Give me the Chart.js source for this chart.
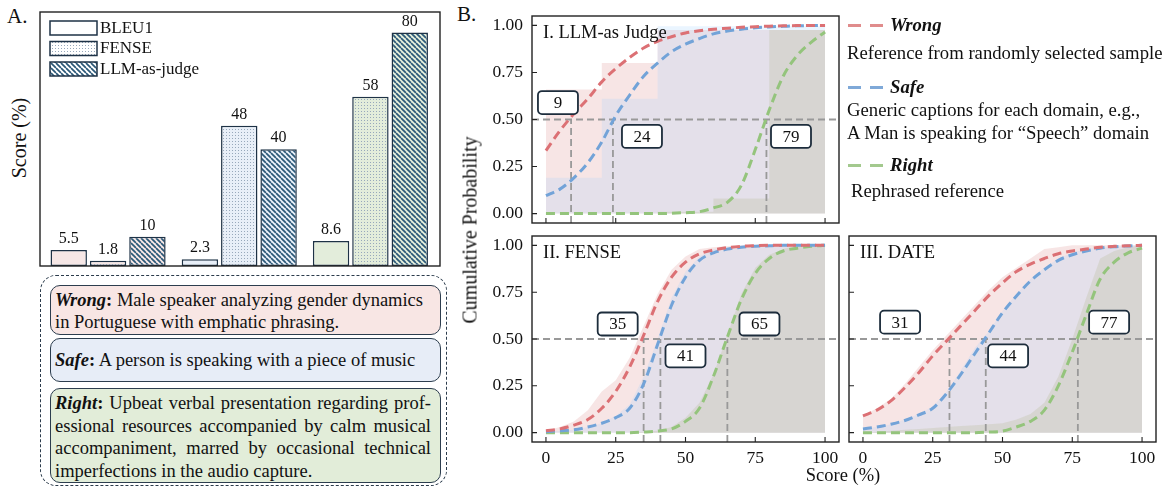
<!DOCTYPE html>
<html>
<head>
<meta charset="utf-8">
<script src="https://cdn.jsdelivr.net/npm/chart.js@4.4.0/dist/chart.umd.min.js"></script>
<style>
  body { margin: 0; background: #fff; }
  #fig { position: relative; width: 1164px; height: 488px; overflow: hidden; background: #fff;
         font-family: 'Liberation Serif', 'Times New Roman', serif; color: #111; }
  #fig canvas { position: absolute; }
  .t { position: absolute; white-space: nowrap; line-height: 20px; }
  .rot { position: absolute; white-space: nowrap; transform: translate(-50%, -50%) rotate(-90deg); }
  .box { position: absolute; border: 1.5px solid #2c3d4e; border-radius: 10px; box-sizing: border-box;
         padding: 3px 9px 0 4px; font-size: 18.5px; line-height: 22px; white-space: nowrap; }
  .box .j { text-align: justify; text-align-last: justify; }
  .dash { position: absolute; width: 13px; height: 3px; }
</style>
</head>
<body>
<div id="fig">
  <div class="t" style="left:7px;top:6px;font-size:21px;">A.</div>
  <div class="t" style="left:457px;top:4px;font-size:21px;">B.</div>
  <div class="rot" style="left:19px;top:138px;font-size:20px;">Score (%)</div>

  <canvas id="bars"></canvas>

  <div style="position:absolute;left:40px;top:275px;width:407px;height:211px;border:1.5px dashed #2b3b4b;border-radius:16px;box-sizing:border-box;"></div>
  <div class="box" style="left:50px;top:285px;width:391px;height:50px;background:#f8e6e4;">
    <div><b><i>Wrong</i>:</b> Male speaker analyzing gender dynamics</div>
    <div>in Portuguese with emphatic phrasing.</div>
  </div>
  <div class="box" style="left:50px;top:338px;width:391px;height:44px;background:#e7edf7;padding-top:10px;">
    <div><b><i>Safe</i>:</b> A person is speaking with a piece of music</div>
  </div>
  <div class="box" style="left:50px;top:388px;width:391px;height:95px;background:#e2edd9;line-height:22.5px;">
    <div class="j"><b><i>Right</i>:</b> Upbeat verbal presentation regarding prof-</div>
    <div class="j">essional resources accompanied by calm musical</div>
    <div class="j">accompaniment, marred by occasional technical</div>
    <div>imperfections in the audio capture.</div>
  </div>

  <canvas id="cdfLlm"></canvas>
  <canvas id="cdfFense"></canvas>
  <canvas id="cdfDate"></canvas>

  <div class="rot" style="left:470px;top:230px;font-size:20px;">Cumulative Probability</div>
  <div class="t" style="left:843px;top:465px;font-size:18.5px;transform:translateX(-50%);">Score (%)</div>

  <div class="dash" style="left:848px;top:24px;background:#e08c8c;"></div>
  <div class="dash" style="left:870px;top:24px;background:#e08c8c;"></div>
  <div class="t" style="left:890px;top:15px;font-size:18.7px;"><b><i>Wrong</i></b></div>
  <div class="t" style="left:847px;top:43px;font-size:18.7px;">Reference from randomly selected sample</div>
  <div class="dash" style="left:848px;top:86px;background:#7fa9d8;"></div>
  <div class="dash" style="left:870px;top:86px;background:#7fa9d8;"></div>
  <div class="t" style="left:890px;top:77px;font-size:18.7px;"><b><i>Safe</i></b></div>
  <div class="t" style="left:847px;top:100px;font-size:18.7px;">Generic captions for each domain, e.g.,</div>
  <div class="t" style="left:847px;top:123px;font-size:18.7px;">A Man is speaking for “Speech” domain</div>
  <div class="dash" style="left:848px;top:164px;background:#a3c98e;"></div>
  <div class="dash" style="left:870px;top:164px;background:#a3c98e;"></div>
  <div class="t" style="left:890px;top:155px;font-size:18.7px;"><b><i>Right</i></b></div>
  <div class="t" style="left:851px;top:181px;font-size:18.7px;">Rephrased reference</div>
</div>

<script>
// ---- panel A data ----
const groups = ['Wrong', 'Safe', 'Right'];
const metrics = ['BLEU1', 'FENSE', 'LLM-as-judge'];
const bleu1 = [5.5, 2.3, 8.6];
const fense = [1.8, 48, 58];
const llmJudge = [10, 40, 80];

// ---- panel B data ----
const scoreGrid = [0, 5, 10, 15, 20, 25, 30, 35, 40, 45, 50, 55, 60, 65, 70, 75, 80, 85, 90, 95, 100];
const xTicks = [0, 25, 50, 75, 100];
const yTicks = [0, 0.25, 0.5, 0.75, 1];

// I. LLM-as Judge
const llmWrong = [0.335, 0.44, 0.53, 0.61, 0.70, 0.77, 0.83, 0.88, 0.915, 0.94, 0.96, 0.972, 0.98, 0.985, 0.99, 0.993, 0.996, 0.998, 0.999, 1, 1];
const llmSafe = [0.095, 0.13, 0.19, 0.27, 0.38, 0.52, 0.63, 0.73, 0.80, 0.86, 0.90, 0.93, 0.955, 0.97, 0.98, 0.987, 0.992, 0.995, 0.998, 0.999, 1];
const llmRight = [0, 0, 0, 0, 0, 0, 0, 0, 0, 0.002, 0.005, 0.01, 0.03, 0.06, 0.15, 0.34, 0.55, 0.73, 0.84, 0.91, 0.965];
const llmStepX = [0, 20, 40, 60, 80, 100];
const llmWrongHist = [0.66, 0.80, 0.975, 0.975, 0.975, 0.975];
const llmSafeHist = [0.19, 0.61, 0.995, 0.995, 0.995, 0.995];
const llmRightHist = [0, 0, 0.01, 0.08, 0.975, 0.975];
const llmMedians = [9, 24, 79];

// II. FENSE
const fenseWrong = [0.01, 0.02, 0.04, 0.07, 0.13, 0.22, 0.35, 0.52, 0.70, 0.83, 0.91, 0.955, 0.975, 0.988, 0.995, 0.998, 1, 1, 1, 1, 1];
const fenseSafe = [0.005, 0.01, 0.015, 0.03, 0.05, 0.08, 0.13, 0.26, 0.47, 0.68, 0.83, 0.92, 0.96, 0.98, 0.99, 0.995, 0.998, 1, 1, 1, 1];
const fenseRight = [0, 0, 0, 0, 0, 0, 0, 0.003, 0.008, 0.02, 0.06, 0.13, 0.30, 0.51, 0.71, 0.85, 0.93, 0.97, 0.985, 0.995, 1];
const fenseWrongEcdf = [0.01, 0.03, 0.06, 0.12, 0.22, 0.28, 0.40, 0.57, 0.74, 0.87, 0.94, 0.98, 0.99, 0.995, 1, 1, 1, 1, 1, 1, 1];
const fenseSafeEcdf = [0.005, 0.01, 0.015, 0.03, 0.05, 0.09, 0.15, 0.30, 0.50, 0.72, 0.86, 0.94, 0.98, 0.99, 0.995, 1, 1, 1, 1, 1, 1];
const fenseRightEcdf = [0, 0, 0, 0, 0, 0, 0, 0.005, 0.01, 0.03, 0.08, 0.16, 0.31, 0.52, 0.74, 0.88, 0.95, 0.98, 1, 1, 1];
const fenseMedians = [35, 41, 65];

// III. DATE
const dateWrong = [0.09, 0.12, 0.17, 0.24, 0.32, 0.41, 0.49, 0.57, 0.65, 0.73, 0.80, 0.86, 0.90, 0.93, 0.955, 0.97, 0.98, 0.99, 0.995, 0.998, 1];
const dateSafe = [0.02, 0.03, 0.045, 0.065, 0.095, 0.13, 0.21, 0.31, 0.42, 0.53, 0.64, 0.73, 0.81, 0.87, 0.92, 0.95, 0.97, 0.985, 0.993, 0.997, 1];
const dateRight = [0, 0, 0, 0, 0, 0, 0, 0, 0, 0.003, 0.008, 0.03, 0.06, 0.12, 0.25, 0.43, 0.63, 0.82, 0.91, 0.96, 0.985];
const dateWrongEcdf = [0.09, 0.13, 0.18, 0.26, 0.35, 0.44, 0.52, 0.60, 0.68, 0.76, 0.83, 0.88, 0.93, 0.98, 0.99, 1, 1, 1, 1, 1, 1];
const dateSafeEcdf = [0.02, 0.03, 0.045, 0.07, 0.10, 0.14, 0.22, 0.33, 0.45, 0.54, 0.65, 0.74, 0.82, 0.88, 0.93, 0.96, 0.98, 0.99, 0.99, 1, 1];
const dateRightEcdf = [0, 0.005, 0.01, 0.015, 0.02, 0.025, 0.03, 0.035, 0.04, 0.045, 0.05, 0.07, 0.10, 0.16, 0.30, 0.50, 0.72, 0.93, 0.97, 0.99, 1];
const dateMedians = [31, 44, 77];

// where the median number boxes sit (data coords)
const llmBoxAt = [[4.3, 0.59], [34.4, 0.41], [87.8, 0.41]];
const fenseBoxAt = [[25.7, 0.58], [50, 0.41], [76.5, 0.58]];
const dateBoxAt = [[13.3, 0.59], [52, 0.41], [88.2, 0.59]];

const SERIF = "'Liberation Serif', 'Times New Roman', serif";
Chart.defaults.font.family = SERIF;
Chart.defaults.color = '#111';
Chart.defaults.animation = false;

const RED = '#dc7074', BLUE = '#72a3d8', GREEN = '#94c47c';
const RED_FILL = 'rgba(200,80,80,0.15)';
const BLUE_FILL = 'rgba(150,205,255,0.2)';
const GREEN_FILL = 'rgba(184,188,156,0.3)';

// ---- hatch patterns ----
function dots(base) {
    const c = document.createElement('canvas');
    c.width = 3; c.height = 3;
    const g = c.getContext('2d');
    g.fillStyle = base; g.fillRect(0, 0, 3, 3);
    g.fillStyle = '#97a8bb'; g.fillRect(1, 1, 1, 1);
    return g.createPattern(c, 'repeat');
}
function stripes(base) {
    const s = 5;
    const c = document.createElement('canvas');
    c.width = s; c.height = s;
    const g = c.getContext('2d');
    g.fillStyle = base; g.fillRect(0, 0, s, s);
    g.strokeStyle = '#2b5878'; g.lineWidth = 1.7;
    g.beginPath();
    for (const k of [-s, 0, s]) { g.moveTo(k, 0); g.lineTo(k + s, s); }
    g.stroke();
    return g.createPattern(c, 'repeat');
}

const groupColors = ['#f6e7e6', '#e8eff8', '#e3eddb'];
const BAR_EDGE = '#1e3246';

// frame around panel A + value labels + legend
const barDecor = {
    id: 'barDecor',
    afterDatasetsDraw(chart) {
        const {ctx, chartArea: a} = chart;
        ctx.save();
        ctx.font = '16px ' + SERIF;
        ctx.fillStyle = '#111';
        ctx.textAlign = 'center';
        ctx.textBaseline = 'bottom';
        chart.data.datasets.forEach((ds, i) => {
            chart.getDatasetMeta(i).data.forEach((bar, j) => {
                ctx.fillText(String(ds.data[j]), bar.x, bar.y - 3);
            });
        });
        // frame
        ctx.strokeStyle = '#222';
        ctx.lineWidth = 1.4;
        ctx.strokeRect(a.left - 2.5, a.top, a.width + 6.5, a.height);
        // legend
        const fills = ['#ffffff', dots('#ffffff'), stripes('#ffffff')];
        ctx.font = '17px ' + SERIF;
        ctx.textAlign = 'left';
        ctx.textBaseline = 'middle';
        metrics.forEach((m, i) => {
            const x = a.left + 7.5, y = a.top + 9 + i * 20.5;
            ctx.fillStyle = fills[i];
            ctx.fillRect(x, y, 47, 14);
            ctx.strokeStyle = BAR_EDGE; ctx.lineWidth = 1.5;
            ctx.strokeRect(x, y, 47, 14);
            ctx.fillStyle = '#111';
            ctx.fillText(m, x + 50, y + 7.5);
        });
        ctx.restore();
    }
};

const barCv = document.getElementById('bars');
barCv.width = 408; barCv.height = 262;
barCv.style.left = '36px'; barCv.style.top = '8px';
new Chart(barCv, {
    type: 'bar',
    data: {
        labels: groups,
        datasets: [
            {label: metrics[0], data: bleu1, backgroundColor: groupColors},
            {label: metrics[1], data: fense, backgroundColor: groupColors.map(dots)},
            {label: metrics[2], data: llmJudge, backgroundColor: groupColors.map(stripes)}
        ].map(d => Object.assign(d, {borderColor: BAR_EDGE, borderWidth: 1.5, borderSkipped: false,
            categoryPercentage: 0.9, barPercentage: 0.925}))
    },
    options: {
        responsive: false,
        layout: {padding: {left: 6.5, right: 8, top: 4, bottom: 4}},
        plugins: {legend: {display: false}, tooltip: {enabled: false}},
        scales: {
            x: {display: false},
            y: {display: false, min: 0, max: 87}
        }
    },
    plugins: [barDecor]
});

// ---- panel B ----
const cdfDecor = {
    id: 'cdfDecor',
    afterDatasetsDraw(chart, args, opts) {
        const {ctx, chartArea: a, scales: {x, y}} = chart;
        ctx.save();
        // median boxes
        ctx.font = '17px ' + SERIF;
        ctx.textAlign = 'center';
        ctx.textBaseline = 'middle';
        opts.boxes.forEach(b => {
            const cx = x.getPixelForValue(b.x), cy = y.getPixelForValue(b.y);
            ctx.beginPath();
            ctx.roundRect(cx - 20, cy - 11.5, 40, 23, 4);
            ctx.fillStyle = '#fff';
            ctx.fill();
            ctx.lineWidth = 1.8;
            ctx.strokeStyle = '#1d2d3c';
            ctx.stroke();
            ctx.fillStyle = '#111';
            ctx.fillText(b.text, cx, cy + 1);
        });
        // panel title
        ctx.textAlign = 'left';
        ctx.font = '18.5px ' + SERIF;
        ctx.fillText(opts.title, a.left + 11, a.top + 17);
        // frame and inward ticks
        ctx.strokeStyle = '#222';
        ctx.lineWidth = 1.4;
        ctx.strokeRect(a.left, a.top, a.width, a.height);
        ctx.lineWidth = 1.1;
        ctx.beginPath();
        x.ticks.forEach(t => {
            const px = x.getPixelForValue(t.value);
            ctx.moveTo(px, a.bottom); ctx.lineTo(px, a.bottom - 5);
        });
        y.ticks.forEach(t => {
            const py = y.getPixelForValue(t.value);
            ctx.moveTo(a.left, py); ctx.lineTo(a.left + 5, py);
        });
        ctx.stroke();
        ctx.restore();
    }
};

function pts(xs, ys) {
    return xs.map((v, i) => ({x: v, y: ys[i]}));
}

function cdfChart(id, frame, s, showX, showY, title, medians, boxAt) {
    const cv = document.getElementById(id);
    cv.width = frame.w + 82; cv.height = frame.h + 60;
    cv.style.left = (frame.x - 60) + 'px';
    cv.style.top = (frame.y - 20) + 'px';
    const curve = (data, color) => ({
        data: pts(scoreGrid, data), borderColor: color, borderWidth: 3, borderDash: [9, 5],
        cubicInterpolationMode: 'monotone', pointRadius: 0, fill: false
    });
    const guide = (data) => ({data, borderColor: '#999', borderWidth: 1.8, borderDash: [7, 4], pointRadius: 0, fill: false});
    // 'before' keeps each value flat until the next score bin
    const area = (data, color) => ({
        data: pts(s.fillX, data), borderWidth: 0, borderColor: 'rgba(0,0,0,0)', pointRadius: 0,
        fill: 'origin', backgroundColor: color, stepped: s.stepped ? 'before' : false
    });
    return new Chart(cv, {
        type: 'line',
        data: {
            datasets: [
                curve(s.wrong, RED), curve(s.safe, BLUE), curve(s.right, GREEN),
                guide([{x: -5, y: 0.5}, {x: 105, y: 0.5}]),
                ...medians.map(m => guide([{x: m, y: -0.05}, {x: m, y: 0.5}])),
                area(s.rightFill, GREEN_FILL), area(s.safeFill, BLUE_FILL), area(s.wrongFill, RED_FILL)
            ]
        },
        options: {
            responsive: false,
            layout: {padding: {left: 0, right: 22, top: 20, bottom: 0}},
            plugins: {
                legend: {display: false}, tooltip: {enabled: false},
                filler: {drawTime: 'beforeDatasetsDraw'},
                cdfDecor: {title, boxes: medians.map((m, i) => ({text: String(m), x: boxAt[i][0], y: boxAt[i][1]}))}
            },
            scales: {
                x: {
                    type: 'linear', min: -5, max: 105,
                    afterBuildTicks: sc => { sc.ticks = xTicks.map(v => ({value: v})); },
                    afterFit: sc => { sc.height = 40; },
                    grid: {display: false, drawTicks: false}, border: {display: false},
                    ticks: {display: showX, font: {size: 17.5}, padding: 6, maxRotation: 0}
                },
                y: {
                    type: 'linear', min: -0.05, max: 1.05,
                    afterBuildTicks: sc => { sc.ticks = yTicks.map(v => ({value: v})); },
                    afterFit: sc => { sc.width = 60; },
                    grid: {display: false, drawTicks: false}, border: {display: false},
                    ticks: {display: showY, font: {size: 17.5}, padding: 9, callback: v => v.toFixed(2)}
                }
            }
        },
        plugins: [cdfDecor]
    });
}

cdfChart('cdfLlm', {x: 532, y: 16, w: 307, h: 207},
    {wrong: llmWrong, safe: llmSafe, right: llmRight, fillX: llmStepX, stepped: true,
     wrongFill: llmWrongHist, safeFill: llmSafeHist, rightFill: llmRightHist},
    false, true, 'I. LLM-as Judge', llmMedians, llmBoxAt);

cdfChart('cdfFense', {x: 532, y: 236, w: 307, h: 206},
    {wrong: fenseWrong, safe: fenseSafe, right: fenseRight, fillX: scoreGrid, stepped: false,
     wrongFill: fenseWrongEcdf, safeFill: fenseSafeEcdf, rightFill: fenseRightEcdf},
    true, true, 'II. FENSE', fenseMedians, fenseBoxAt);

cdfChart('cdfDate', {x: 849, y: 236, w: 307, h: 206},
    {wrong: dateWrong, safe: dateSafe, right: dateRight, fillX: scoreGrid, stepped: false,
     wrongFill: dateWrongEcdf, safeFill: dateSafeEcdf, rightFill: dateRightEcdf},
    true, false, 'III. DATE', dateMedians, dateBoxAt);
</script>
</body>
</html>
